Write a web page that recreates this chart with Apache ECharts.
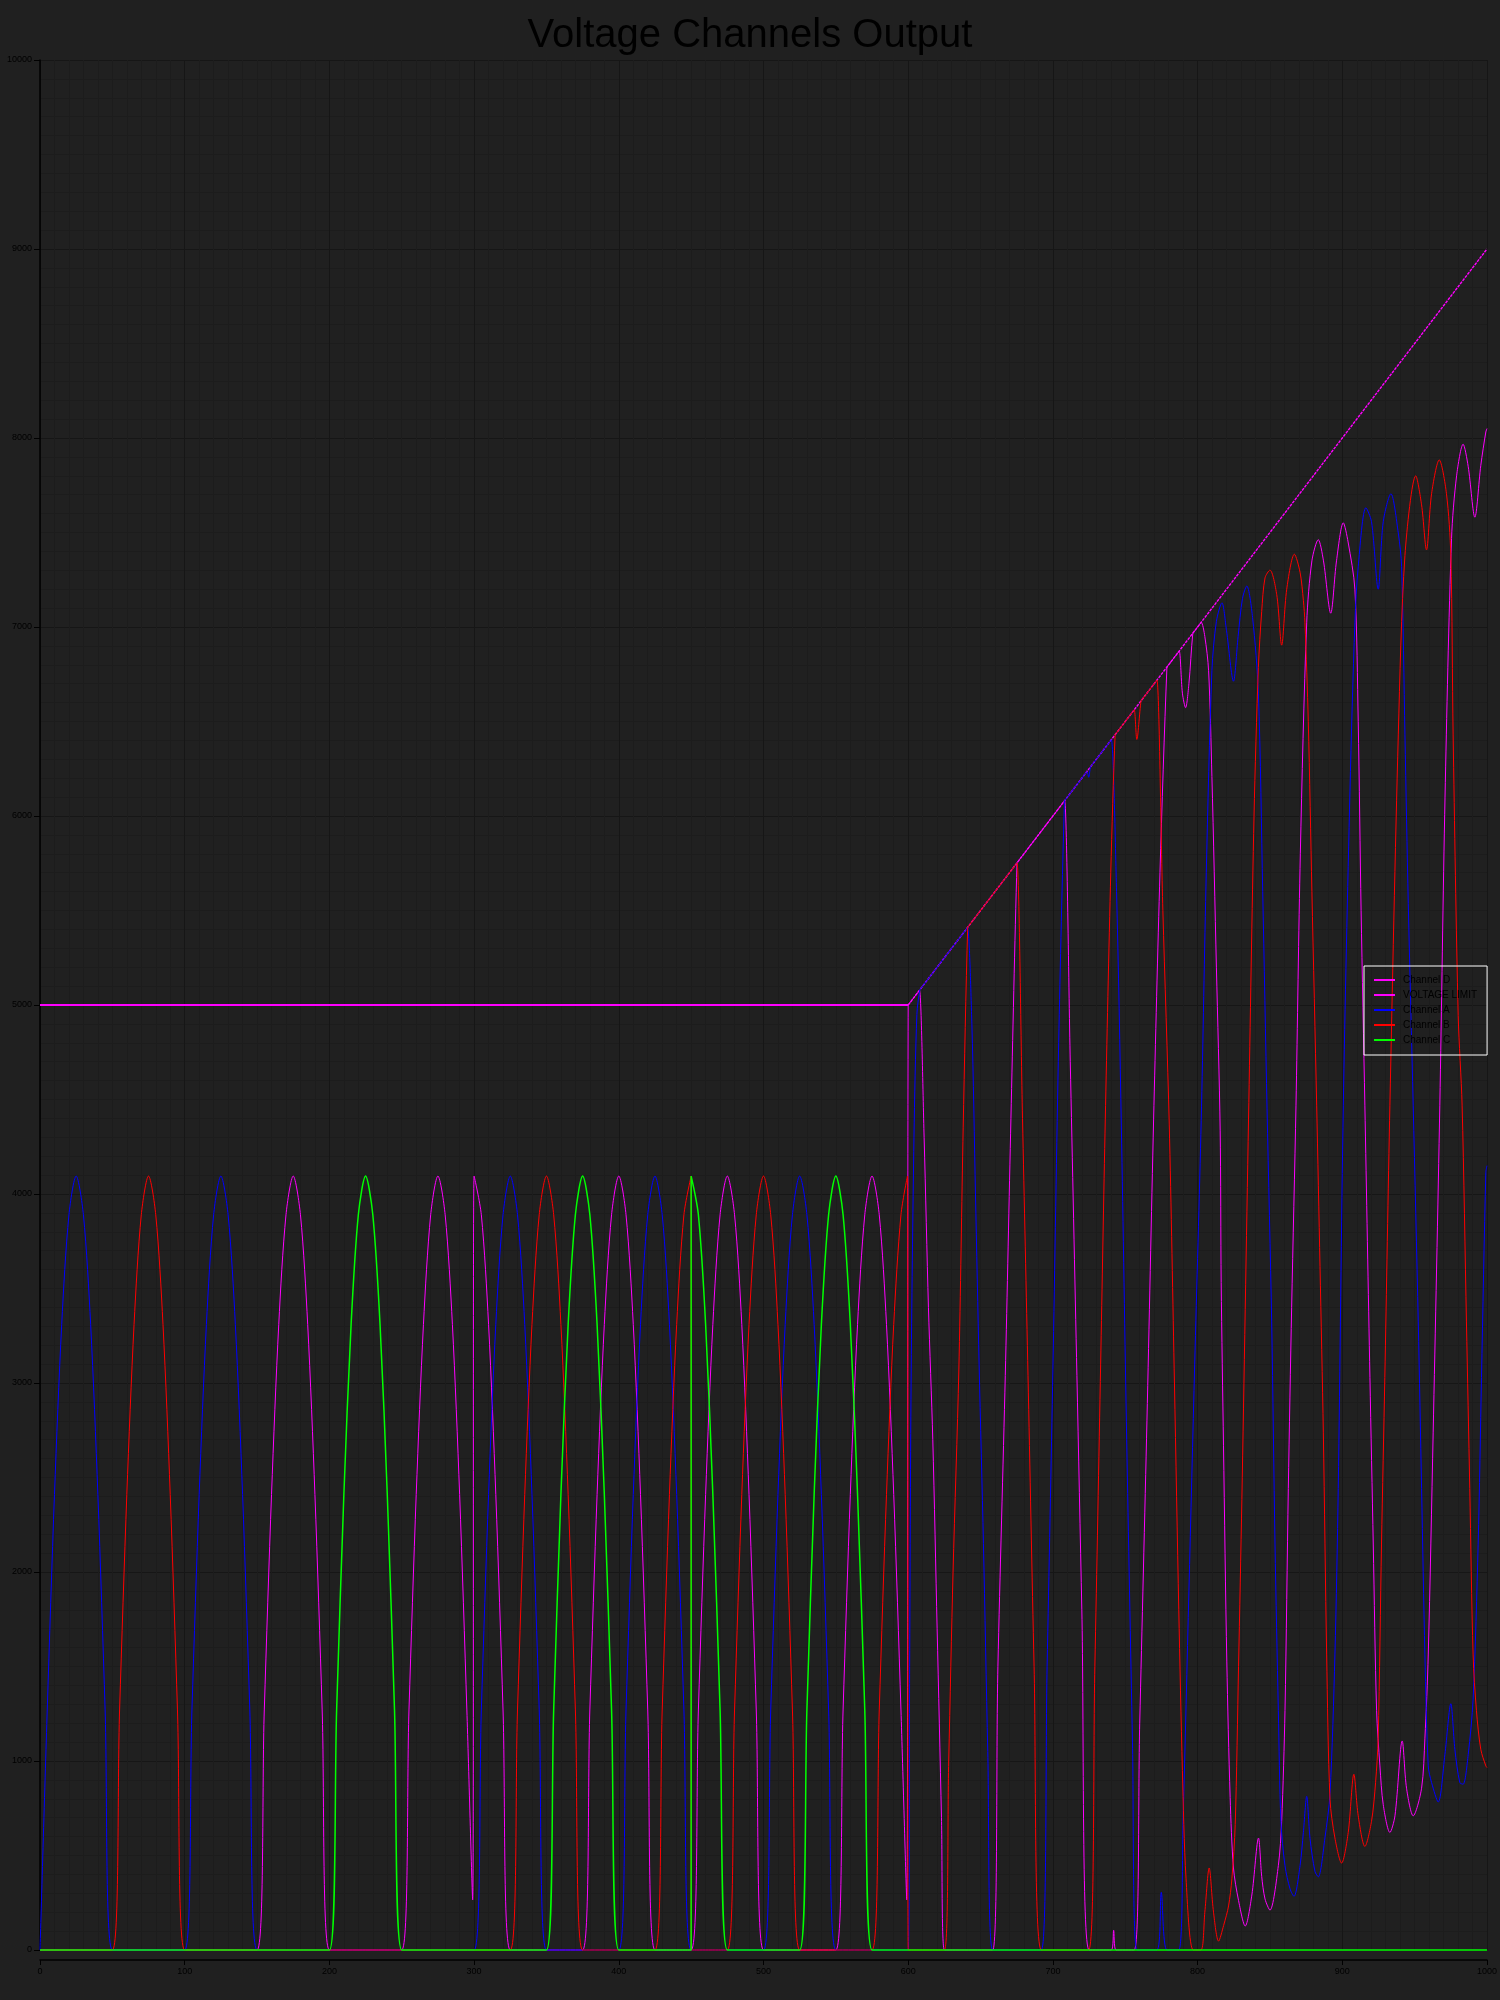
<!DOCTYPE html>
<html>
<head>
<meta charset="utf-8">
<script src="https://cdn.jsdelivr.net/npm/echarts@6/dist/echarts.min.js"></script>
<style>
html,body{margin:0;padding:0;background:#202020;}
#chart{width:1500px;height:2000px;}
</style>
</head>
<body>
<div id="chart"></div>
<script>
var titleText = 'Voltage Channels Output';
var legendNames = ['Channel D', 'VOLTAGE LIMIT', 'Channel A', 'Channel B', 'Channel C'];

var voltageLimitFlat = [[0,5000],[600,5000]];
var voltageLimitRamp = [[600,5000],[1000,9000]];

var channelA = [
[0,0],[5,1270],[10,2410],[15,3310],[20,3890],[25,4095],[30,3890],[35,3310],[40,2410],[45,1270],[50,0],
[100,0],[105,1270],[110,2410],[115,3310],[120,3890],[125,4095],[130,3890],[135,3310],[140,2410],[145,1270],[150,0],
[300,0],[305,1270],[310,2410],[315,3310],[320,3890],[325,4095],[330,3890],[335,3310],[340,2410],[345,1270],[350,0],
[400,0],[405,1270],[410,2410],[415,3310],[420,3890],[425,4095],[430,3890],[435,3310],[440,2410],[445,1270],[450,0],
[500,0],[505,1270],[510,2410],[515,3310],[520,3890],[525,4095],[530,3890],[535,3310],[540,2410],[545,1270],[550,0],
[600,0],[601,1500],[602,3000],[604,4300],[606,4950],[608,5080],[609,5090],
[640,5400],[641,5410],[644,4900],[646.5,4000],[649,3100],[652,2150],[655,1050],[658.4,0],
[692,0],[696,1500],[700,3070],[704,4800],[708,6080],[709,6090],
[722.5,6225],[723.5,6235],[724.7,6205],[726,6260],[727,6270],
[739.4,6394],[740.4,6404],[744,5600],[747.3,4360],[751,2700],[755,1100],[758.1,0],
[771.9,0],[774.9,305],[778.8,0],
[786.9,0],[790,700],[794,1900],[798,3100],[802.5,4390],[806,5700],[809.9,6769],[813,7030],[816.8,7128],[820,6980],[824.8,6713],[828,6950],[831,7150],[834,7217],[838,7050],[842,6650],[845,5600],[848,4450],
[851.2,3323],[853.5,2148],[855.8,1268],[857.6,681],[860.4,446],[863.9,323],[866.6,284],[870.8,446],[873.1,622],[875.4,813],[877.7,590],[881.1,416],[883.4,387],[888,593],[891.5,827],[894.9,1561],[897.2,2442],[900.7,4470],
[905.3,6132],[908.7,7022],[911,7319],[916.3,7631],[920.2,7557],[924.8,7200],[928.3,7557],[933.6,7705],[938.7,7497],[941,7319],[943.3,6429],[945.6,5537],[949,4470],
[952.5,3323],[954.8,2442],[957.1,1561],[959.4,974],[961.7,886],[966.3,783],[970.9,1033],[975,1303],[977.8,1062],[981.2,886],[983.5,877],[987,1033],[990.4,1327],[993.9,2148],[996.2,3029],[999.2,4115],[1000,4150]
];

var channelB = [
[0,0],[50,0],[55,1270],[60,2410],[65,3310],[70,3890],[75,4095],[80,3890],[85,3310],[90,2410],[95,1270],[100,0],
[325,0],[330,1270],[335,2410],[340,3310],[345,3890],[350,4095],[355,3890],[360,3310],[365,2410],[370,1270],[375,0],
[425,0],[430,1270],[435,2410],[440,3310],[445,3890],[450,4095],[450,0],
[475,0],[480,1270],[485,2410],[490,3310],[495,3890],[500,4095],[505,3890],[510,3310],[515,2410],[520,1270],[525,0],
[575,0],[580,1270],[585,2410],[590,3310],[595,3890],[599.5,4095],[600,0],
[625,0],[628,1000],[631,2000],[635,3069],[638,4350],[641.1,5411],[642,5420],
[674.2,5742],[675.2,5752],[679,4400],[682.8,3040],[687,1500],[692,0],
[724.7,0],[729,1500],[733,3100],[736.2,4392],[740,5700],[743,6430],[744,6440],
[755.2,6552],[756.2,6562],[758,6405],[760.9,6609],[761.9,6619],[770.9,6709],[771.9,6719],
[776,5500],[780.4,4370],[784,3000],[787,1800],[789.5,950],[792,380],[797,0],
[802.3,0],[805,200],[808,434],[811,200],[814.5,47],[818,130],[821.4,233],[823.7,377],[826,664],[828.3,1500],[830.6,2384],[835.2,4392],[839,6000],
[842,6785],[844.3,7082],[846.6,7260],[850,7301],[854.7,7171],[858.1,6904],[861.6,7200],[866.9,7385],[870.8,7290],[873.1,7141],[874.2,7022],[876.5,6500],[879,5600],[882.3,4470],
[884.6,3617],[886.9,2736],[889.2,1561],[891.5,798],[894.9,593],[899.5,460],[904.1,622],[908,930],[911,710],[915.6,548],[920.2,681],[923,886],[924.8,1121],[927.1,2148],[929.4,3029],[932.9,4470],
[938.7,6429],[943.3,7379],[950.8,7800],[954.8,7646],[958.2,7408],[961.7,7705],[967,7884],[972,7705],[975,7379],[976.6,6429],[980.1,4944],[982.8,4470],
[985.8,3323],[988.1,2442],[990.4,1561],[992.7,1268],[995.7,1062],[999.2,974],[1000,965]
];

var channelC = [
[0,0],[200,0],[205,1270],[210,2410],[215,3310],[220,3890],[225,4095],[230,3890],[235,3310],[240,2410],[245,1270],[250,0],
[350,0],[355,1270],[360,2410],[365,3310],[370,3890],[375,4095],[380,3890],[385,3310],[390,2410],[395,1270],[400,0],
[450,0],[450,4095],[455,3890],[460,3310],[465,2410],[470,1270],[475,0],
[525,0],[530,1270],[535,2410],[540,3310],[545,3890],[550,4095],[555,3890],[560,3310],[565,2410],[570,1270],[575,0],
[1000,0]
];

var channelD = [
[0,0],[150,0],[155,1270],[160,2410],[165,3310],[170,3890],[175,4095],[180,3890],[185,3310],[190,2410],[195,1270],[200,0],
[250,0],[255,1270],[260,2410],[265,3310],[270,3890],[275,4095],[280,3890],[285,3310],[290,2410],[295,1270],[299,265],
[300,4095],[305,3890],[310,3310],[315,2410],[320,1270],[325,0],
[375,0],[380,1270],[385,2410],[390,3310],[395,3890],[400,4095],[405,3890],[410,3310],[415,2410],[420,1270],[425,0],
[450,0],[455,1270],[460,2410],[465,3310],[470,3890],[475,4095],[480,3890],[485,3310],[490,2410],[495,1270],[500,0],
[550,0],[555,1270],[560,2410],[565,3310],[570,3890],[575,4095],[580,3890],[585,3310],[590,2410],[595,1270],[599,265],
[600,5000],[601,5010],[606.8,5068],[607.8,5078],[611,4300],[614,3400],[617,2700],[620,1700],[623,700],[625,0],
[658.4,0],[662,1500],[667.1,3040],[671,4400],[675.2,5752],[676.2,5762],
[707.1,6071],[708.1,6081],[712,4700],[716.6,3040],[720,1800],[725,0],
[740.4,0],[742,104],[743.6,0],
[756.2,0],[760,1200],[765,2800],[769.6,4392],[774,5700],[778.8,6788],[779.8,6798],
[786.3,6863],[787.3,6873],[789.5,6650],[791.7,6573],[794,6700],[796.7,6967],[797.7,6977],[801.5,7015],[802.5,7025],
[805,6950],[807.6,6769],[809.9,6209],[813,5200],[815.6,4338],[816.3,3532],[817.9,2671],[820.2,1524],[822.5,807],[824.8,434],[828.3,262],[832.9,127],[837.5,291],[842.1,592],
[844.3,390],[846.6,270],[850,211],[855.8,446],[858.1,681],[860.4,1268],[862.7,2442],[865,3400],[868,4470],
[871,5800],[875.4,7022],[879,7350],[883.4,7462],[887,7350],[892,7073],[896,7350],[900.7,7551],[904,7450],[908.7,7200],[911,6500],[913,5500],[915.6,4470],
[919.1,3030],[921.4,2148],[923.7,1268],[926,974],[928.3,769],[932.9,622],[936.4,710],[941.4,1106],[944.4,856],[949,710],[954.8,856],[957.1,1121],[959.4,1561],[962.8,2736],[967.4,4470],
[971,6100],[975.5,7468],[979,7800],[983.5,7967],[987,7850],[991.6,7581],[995.7,7854],[999.2,8032],[1000,8050]
];

var chart = echarts.init(document.getElementById('chart'), null, {renderer: 'canvas'});

function lineSeries(name, data, color, width, extra) {
  var s = {
    name: name,
    type: 'line',
    data: data,
    symbol: 'none',
    showSymbol: false,
    smooth: 0.3,
    clip: false,
    animation: false,
    lineStyle: {color: color, width: width},
    itemStyle: {color: color},
    emphasis: {disabled: true}
  };
  if (extra) { for (var k in extra) { s[k] = extra[k]; } }
  return s;
}

var axisFont = 'Liberation Sans, Arial, sans-serif';
function plainLabel(v) { return String(v); }

chart.setOption({
  backgroundColor: '#202020',
  animation: false,
  title: {
    text: titleText,
    left: 'center',
    top: 11,
    textStyle: {color: '#000', fontSize: 40, fontWeight: 'normal', fontFamily: axisFont}
  },
  legend: {
    data: legendNames,
    orient: 'vertical',
    left: 1364,
    top: 966,
    padding: [8, 10, 9, 10],
    borderColor: '#ffffff',
    borderWidth: 1,
    itemGap: 3,
    itemWidth: 21,
    itemHeight: 2,
    icon: 'rect',
    textStyle: {color: '#000', fontSize: 10, fontFamily: axisFont, lineHeight: 12, padding: [0, 0, 0, 3]}
  },
  grid: {left: 40, right: 11, top: 60, bottom: 50, containLabel: false},
  xAxis: {
    type: 'value',
    min: 0,
    max: 1000,
    interval: 100,
    offset: 10,
    axisLine: {show: true, onZero: false, lineStyle: {color: '#000', width: 1.5}},
    axisTick: {show: true, length: 5, lineStyle: {color: '#000'}},
    axisLabel: {color: '#000', fontSize: 9, fontFamily: axisFont, margin: 7, formatter: plainLabel},
    splitLine: {show: true, lineStyle: {color: '#161616', width: 1}},
    minorTick: {show: false, splitNumber: 10},
    minorSplitLine: {show: true, lineStyle: {color: '#1c1c1c', width: 1}}
  },
  yAxis: {
    type: 'value',
    min: 0,
    max: 10000,
    interval: 1000,
    axisLine: {show: true, lineStyle: {color: '#000', width: 1.5}},
    axisTick: {show: true, length: 6, lineStyle: {color: '#000'}},
    axisLabel: {color: '#000', fontSize: 9, fontFamily: axisFont, margin: 8, formatter: plainLabel},
    splitLine: {show: true, lineStyle: {color: '#161616', width: 1}},
    minorTick: {show: false, splitNumber: 10},
    minorSplitLine: {show: true, lineStyle: {color: '#1c1c1c', width: 1}}
  },
  series: [
    lineSeries('Channel D', channelD, '#ff00ff', 1),
    lineSeries('VOLTAGE LIMIT', voltageLimitFlat, '#ff00ff', 2, {smooth: false}),
    lineSeries('VOLTAGE LIMIT', voltageLimitRamp, '#ff00ff', 1.4, {smooth: false, lineStyle: {color: '#ff00ff', width: 1.4, type: [3, 1]}}),
    lineSeries('Channel A', channelA, '#0000ff', 1),
    lineSeries('Channel B', channelB, '#ff0000', 1),
    lineSeries('Channel C', channelC, '#00ff00', 1.5)
  ]
});
</script>
</body>
</html>
